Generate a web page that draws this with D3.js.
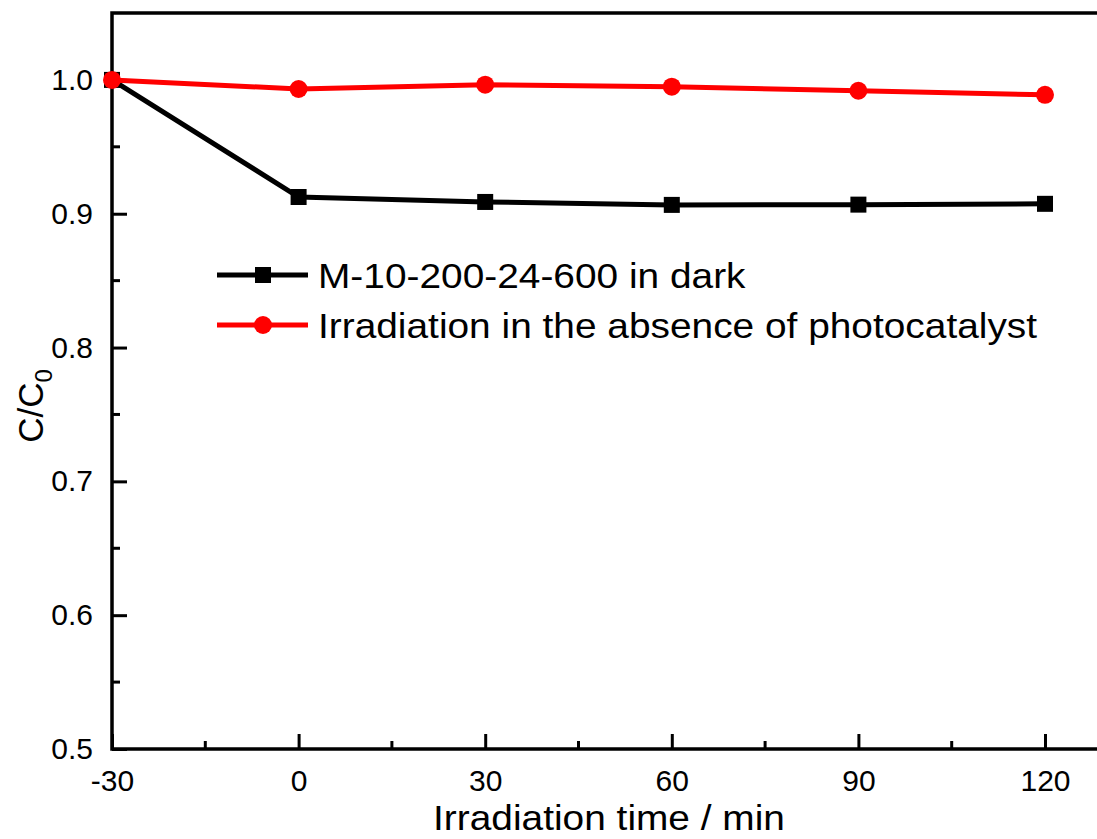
<!DOCTYPE html>
<html>
<head>
<meta charset="utf-8">
<script src="https://cdn.jsdelivr.net/npm/d3@7"></script>
<style>
  body { margin: 0; background: #fff; }
  text { font-family: "Liberation Sans", Arial, sans-serif; fill: #000; }
</style>
</head>
<body>
<svg id="chart" width="1097" height="839"></svg>
<script>
// data
var times = [-30, 0, 30, 60, 90, 120];
var darkValues = [1.0, 0.9125, 0.9088, 0.9066, 0.9068, 0.9074];
var lightValues = [1.0, 0.9932, 0.9964, 0.9949, 0.9919, 0.9889];
var seriesNames = ["M-10-200-24-600 in dark", "Irradiation in the absence of photocatalyst"];
var xTicks = [-30, 0, 30, 60, 90, 120];
var xMinor = [-15, 15, 45, 75, 105];
var yTicks = [0.5, 0.6, 0.7, 0.8, 0.9, 1.0];
var yMinor = [0.55, 0.65, 0.75, 0.85, 0.95];

var svg = d3.select("#chart");
var margin = { left: 112, top: 13, bottom: 90 };
var height = +svg.attr("height");

var x = d3.scaleLinear().domain([-30, 130]).range([margin.left, margin.left + 6.22 * 160]);
var y = d3.scaleLinear().domain([0.5, 1.05]).range([height - margin.bottom, margin.top]);

var g = svg.append("g");

// frame
g.append("rect")
    .attr("x", x(-30))
    .attr("y", y(1.05))
    .attr("width", x(130) - x(-30))
    .attr("height", y(0.5) - y(1.05))
    .attr("fill", "none")
    .attr("stroke", "#000")
    .attr("stroke-width", 3.5);

// inward ticks
var xAxis = d3.axisBottom(x).tickValues(xTicks).tickSize(-15).tickPadding(28)
    .tickFormat(function(d) { return String(d); });
var gx = g.append("g").attr("transform", "translate(0," + y(0.5) + ")").call(xAxis);
gx.append("g").selectAll("line")
    .data(xMinor)
    .enter().append("line")
    .attr("x1", function(d) { return x(d); })
    .attr("x2", function(d) { return x(d); })
    .attr("y1", 0).attr("y2", -8);

var yAxis = d3.axisLeft(y).tickValues(yTicks).tickSize(-15).tickPadding(19).tickFormat(d3.format(".1f"));
var gy = g.append("g").attr("transform", "translate(" + x(-30) + ",0)").call(yAxis);
gy.append("g").selectAll("line")
    .data(yMinor)
    .enter().append("line")
    .attr("y1", function(d) { return y(d); })
    .attr("y2", function(d) { return y(d); })
    .attr("x1", 0).attr("x2", 8);

[gx, gy].forEach(function(a) {
    a.select(".domain").remove();
    a.selectAll("line").attr("stroke", "#000").attr("stroke-width", 3);
    a.selectAll("text").attr("font-size", 30).attr("fill", "#000")
        .style("font-family", "'Liberation Sans', Arial, sans-serif");
});
gx.selectAll(".tick text").attr("dy", "0.45em");

// series
var line = d3.line()
    .x(function(d) { return x(d[0]); })
    .y(function(d) { return y(d[1]); });

var darkData = d3.zip(times, darkValues);
var lightData = d3.zip(times, lightValues);

g.append("path").datum(darkData)
    .attr("d", line).attr("fill", "none").attr("stroke", "#000").attr("stroke-width", 5);
g.selectAll(".sq").data(darkData).enter().append("rect")
    .attr("x", function(d) { return x(d[0]) - 8; })
    .attr("y", function(d) { return y(d[1]) - 8; })
    .attr("width", 16).attr("height", 16).attr("fill", "#000");

g.append("path").datum(lightData)
    .attr("d", line).attr("fill", "none").attr("stroke", "#ff0000").attr("stroke-width", 5);
g.selectAll(".dot").data(lightData).enter().append("circle")
    .attr("cx", function(d) { return x(d[0]); })
    .attr("cy", function(d) { return y(d[1]); })
    .attr("r", 9).attr("fill", "#ff0000");

// legend
var legend = g.append("g").attr("transform", "translate(217,275)");
var legendItems = legend.selectAll("g").data(seriesNames).enter().append("g")
    .attr("transform", function(d, i) { return "translate(0," + i * 50 + ")"; });
legendItems.append("line")
    .attr("x1", 0).attr("x2", 91).attr("y1", 0).attr("y2", 0)
    .attr("stroke", function(d, i) { return i ? "#ff0000" : "#000"; })
    .attr("stroke-width", 5);
legendItems.each(function(d, i) {
    if (i === 0) {
        d3.select(this).append("rect").attr("x", 38).attr("y", -8).attr("width", 16).attr("height", 16).attr("fill", "#000");
    } else {
        d3.select(this).append("circle").attr("cx", 46).attr("cy", 0).attr("r", 9).attr("fill", "#ff0000");
    }
});
legendItems.append("text")
    .attr("transform", "translate(101,12.5) scale(1.11,1)")
    .attr("font-size", 35)
    .text(function(d) { return d; });

// axis titles
svg.append("text")
    .attr("transform", "translate(609,830) scale(1.11,1)")
    .attr("text-anchor", "middle")
    .attr("font-size", 35)
    .text("Irradiation time / min");

var yTitle = svg.append("text")
    .attr("transform", "translate(43,406) rotate(-90)")
    .attr("text-anchor", "middle")
    .attr("font-size", 35);
yTitle.append("tspan").text("C/C");
yTitle.append("tspan").attr("font-size", 24).attr("dy", 9).text("0");
</script>
</body>
</html>
